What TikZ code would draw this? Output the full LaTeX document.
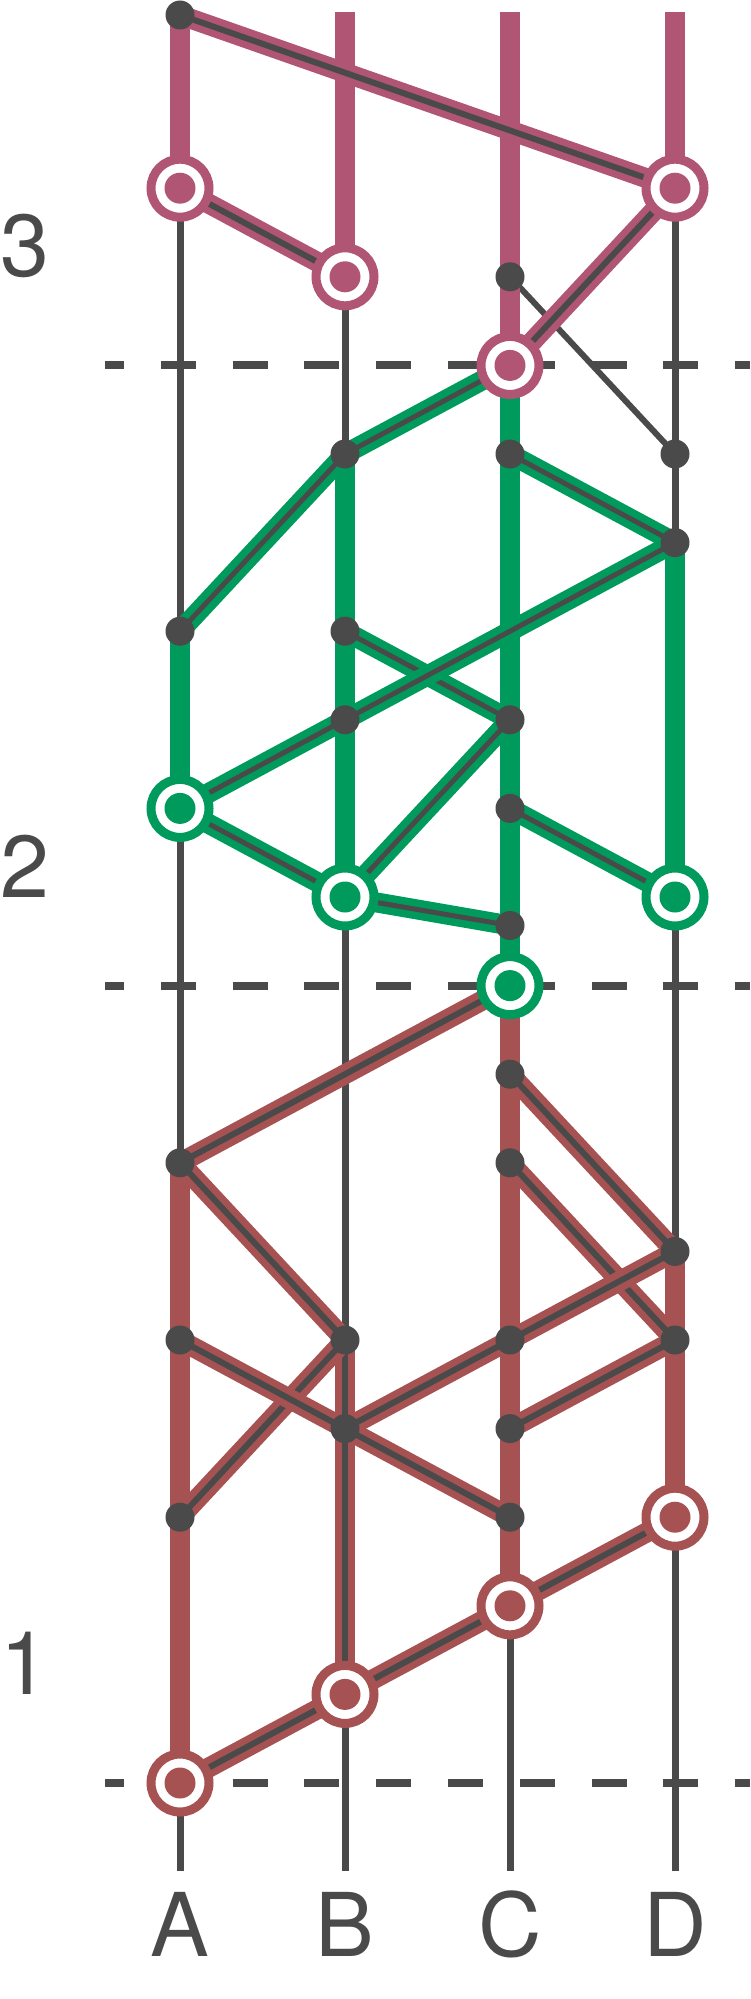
\documentclass[tikz,border=0pt]{standalone}
\usepackage{fontspec}
\setmainfont{TeX Gyre Heros}
\pgfdeclarelayer{bg}
\pgfsetlayers{bg,main}
\definecolor{dk}{HTML}{4A4A4A}
\definecolor{mg}{HTML}{B05574}
\definecolor{gn}{HTML}{009B5C}
\definecolor{rd}{HTML}{A65253}
\newcommand\Y[1]{1783-88.6*#1}
\begin{document}
\begin{tikzpicture}[x=1pt,y=-1pt,
  dotn/.style={circle, fill=dk, minimum size=29pt, inner sep=0pt},
  ring/.style={circle, draw=#1, fill=white, line width=9pt, minimum size=58pt, inner sep=0pt,
    path picture={\fill[#1] (path picture bounding box.center) circle (15.5pt);}},
  colline/.style={draw=dk, line width=7pt},
  thinline/.style={draw=dk, line width=6pt},
  bar/.style={draw=#1, line width=20pt},
  cable/.style={draw=#1, line width=7pt, double=dk, double distance=6pt},
  gcable/.style={draw=gn, line width=7.5pt, double=dk, double distance=5pt},
  dashl/.style={draw=dk, line width=8pt, dash pattern=on 35pt off 36.8pt, dash phase=16pt},
  lbl/.style={text=dk, font=\fontsize{88}{88}\selectfont, inner sep=0pt, anchor=base},
]
\useasboundingbox (0,0) rectangle (750,1999);
% column ends
\coordinate (tA) at (180,12); \coordinate (tB) at (345,12);
\coordinate (tC) at (510,12); \coordinate (tD) at (675,12);
\coordinate (bA) at (180,1871); \coordinate (bB) at (345,1871);
\coordinate (bC) at (510,1871); \coordinate (bD) at (675,1871);
\coordinate (l0a) at (105,{\Y{0}}); \coordinate (l0b) at (750,{\Y{0}});
\coordinate (l9a) at (105,{\Y{9}}); \coordinate (l9b) at (750,{\Y{9}});
\coordinate (l16a) at (105,{\Y{16}}); \coordinate (l16b) at (750,{\Y{16}});
% magenta nodes
\node[dotn] (a20) at (180,15) {};
\node[ring=mg] (a18) at (180,{\Y{18}}) {};
\node[ring=mg] (d18) at (675,{\Y{18}}) {};
\node[ring=mg] (b17) at (345,{\Y{17}}) {};
\node[dotn] (c17) at (510,{\Y{17}}) {};
\node[ring=mg] (c16) at (510,{\Y{16}}) {};
% green nodes
\node[dotn] (b15) at (345,{\Y{15}}) {};
\node[dotn] (c15) at (510,{\Y{15}}) {};
\node[dotn] (d15) at (675,{\Y{15}}) {};
\node[dotn] (d14) at (675,{\Y{14}}) {};
\node[dotn] (a13) at (180,{\Y{13}}) {};
\node[dotn] (b13) at (345,{\Y{13}}) {};
\node[dotn] (b12) at (345,{\Y{12}}) {};
\node[dotn] (c12) at (510,{\Y{12}}) {};
\node[ring=gn] (a11) at (180,{\Y{11}}) {};
\node[dotn] (c11) at (510,{\Y{11}}) {};
\node[ring=gn] (b10) at (345,{\Y{10}}) {};
\node[ring=gn] (d10) at (675,{\Y{10}}) {};
\node[dotn] (c97) at (510,925.5) {};
\node[ring=gn] (c9) at (510,{\Y{9}}) {};
% red nodes
\node[dotn] (c8) at (510,{\Y{8}}) {};
\node[dotn] (a7) at (180,{\Y{7}}) {};
\node[dotn] (c7) at (510,{\Y{7}}) {};
\node[dotn] (d6) at (675,{\Y{6}}) {};
\node[dotn] (a5) at (180,{\Y{5}}) {};
\node[dotn] (b5) at (345,{\Y{5}}) {};
\node[dotn] (c5) at (510,{\Y{5}}) {};
\node[dotn] (d5) at (675,{\Y{5}}) {};
\node[dotn] (b4) at (345,{\Y{4}}) {};
\node[dotn] (c4) at (510,{\Y{4}}) {};
\node[dotn] (a3) at (180,{\Y{3}}) {};
\node[dotn] (c3) at (510,{\Y{3}}) {};
\node[ring=rd] (d3) at (675,{\Y{3}}) {};
\node[ring=rd] (c2) at (510,{\Y{2}}) {};
\node[ring=rd] (b1) at (345,{\Y{1}}) {};
\node[ring=rd] (a0) at (180,{\Y{0}}) {};
% labels
\node[lbl] (lA) at (180,1956) {A};
\node[lbl] (lB) at (345,1956) {B};
\node[lbl] (lC) at (510,1956) {C};
\node[lbl] (lD) at (675,1956) {D};
\node[lbl, anchor=base west] (n3) at (0,{\Y{17}}) {3};
\node[lbl, anchor=base west] (n2) at (0,{\Y{10}}) {2};
\node[lbl, anchor=base west] (n1) at (0,{\Y{1}}) {1};
\begin{pgfonlayer}{bg}
\draw[dashl] (l0a) -- (l0b);
\draw[dashl] (l9a) -- (l9b);
\draw[dashl] (l16a) -- (l16b);
\draw[colline] (a20.center) -- (bA);
\draw[colline] (tB) -- (bB);
\draw[colline] (tC) -- (bC);
\draw[colline] (tD) -- (bD);
\draw[thinline] (c17.center) -- (d15.center);
% thick verticals
\draw[bar=mg] (a20.center) -- (a18.center);
\draw[bar=mg] (tB) -- (b17.center);
\draw[bar=mg] (tC) -- (c16.center);
\draw[bar=mg] (tD) -- (d18.center);
\draw[bar=gn] (a13.center) -- (a11.center);
\draw[bar=gn] (b15.center) -- (b10.center);
\draw[bar=gn] (c16.center) -- (c9.center);
\draw[bar=gn] (d14.center) -- (d10.center);
\draw[bar=rd] (a7.center) -- (a0.center);
\draw[bar=rd] (c9.center) -- (c2.center);
\draw[bar=rd] (d6.center) -- (d3.center);
\draw[cable=rd] (b5.center) -- (b1.center);
% magenta cables
\draw[cable=mg] (a20.center) -- (d18.center);
\draw[cable=mg] (a18.center) -- (b17.center);
\draw[cable=mg] (d18.center) -- (c16.center);
% green cables
\draw[gcable] (c16.center) -- (b15.center);
\draw[gcable] (b15.center) -- (a13.center);
\draw[gcable] (c15.center) -- (d14.center);
\draw[gcable] (b13.center) -- (c12.center);
\draw[gcable] (d14.center) -- (b12.center) -- (a11.center);
\draw[gcable] (c12.center) -- (b10.center);
\draw[gcable] (a11.center) -- (b10.center);
\draw[gcable] (c11.center) -- (d10.center);
\draw[gcable] (b10.center) -- (c97.center);
% red cables
\draw[cable=rd] (c9.center) -- (a7.center);
\draw[cable=rd] (a7.center) -- (b5.center);
\draw[cable=rd] (c8.center) -- (d6.center);
\draw[cable=rd] (c7.center) -- (d5.center);
\draw[cable=rd] (d6.center) -- (c5.center) -- (b4.center);
\draw[cable=rd] (d5.center) -- (c4.center);
\draw[cable=rd] (b5.center) -- (a3.center);
\draw[cable=rd] (a5.center) -- (b4.center) -- (c3.center);
\draw[cable=rd] (a0.center) -- (b1.center) -- (c2.center) -- (d3.center);
\end{pgfonlayer}
\end{tikzpicture}
\end{document}
